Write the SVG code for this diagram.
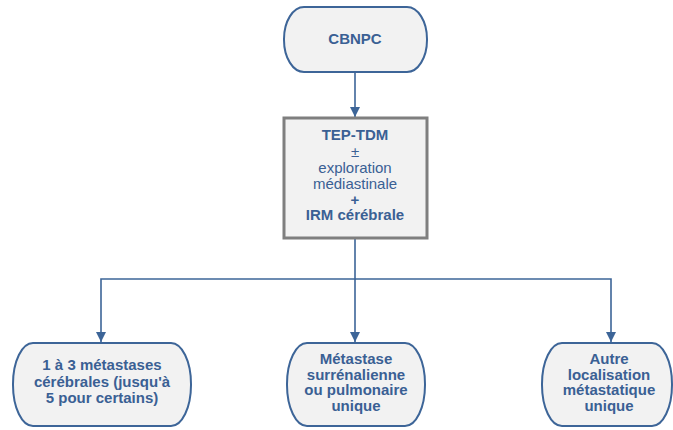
<svg xmlns="http://www.w3.org/2000/svg" width="673" height="430" viewBox="0 0 673 430">
<defs>
<style>
.term{fill:#f2f2f2;stroke:#3d6598;stroke-width:2}
.sq{fill:#f2f2f2;stroke:#7f7f7f;stroke-width:3}
.t{font-family:"Liberation Sans",Arial,sans-serif;font-size:15px;fill:#3a6094;text-anchor:middle}
.b{font-weight:bold}
.c{fill:none;stroke:#3d6598;stroke-width:1.6}
</style>
<marker id="ah" viewBox="0 0 10 10" refX="10" refY="5" markerWidth="10" markerHeight="10" markerUnits="userSpaceOnUse" orient="auto">
<path d="M0,0 L10,5 L0,10 z" fill="#3d6598"/>
</marker>
</defs>
<rect width="673" height="430" fill="#ffffff"/>
<g id="connectors">
<path class="c" d="M355,72 V117" marker-end="url(#ah)"/>
<path class="c" d="M355,238 V279 H101 V342" marker-end="url(#ah)"/>
<path class="c" d="M355,279 V342" marker-end="url(#ah)"/>
<path class="c" d="M355,279 H611 V342" marker-end="url(#ah)"/>
</g>
<g id="cbnpc">
<rect class="term" x="284" y="7" width="143" height="65" rx="20" ry="32"/>
<text class="t b" x="355" y="44">CBNPC</text>
</g>
<g id="tep">
<rect class="sq" x="284" y="118" width="143" height="120"/>
<text class="t b" x="355" y="140">TEP-TDM</text>
<text class="t" x="355" y="157">±</text>
<text class="t" x="355" y="173">exploration</text>
<text class="t" x="355" y="189">médiastinale</text>
<text class="t b" x="355" y="205">+</text>
<text class="t b" x="355" y="220">IRM cérébrale</text>
</g>
<g id="cerebrales">
<rect class="term" x="13" y="343" width="178" height="83" rx="20" ry="41"/>
<text class="t b" x="102" y="370">1 à 3 métastases</text>
<text class="t b" x="102" y="387">cérébrales (jusqu'à</text>
<text class="t b" x="102" y="403">5 pour certains)</text>
</g>
<g id="surrenale">
<rect class="term" x="287" y="343" width="138" height="83" rx="20" ry="41"/>
<text class="t b" x="356" y="364">Métastase</text>
<text class="t b" x="356" y="380">surrénalienne</text>
<text class="t b" x="356" y="395">ou pulmonaire</text>
<text class="t b" x="356" y="411">unique</text>
</g>
<g id="autre">
<rect class="term" x="542" y="343" width="130" height="83" rx="20" ry="41"/>
<text class="t b" x="609" y="364">Autre</text>
<text class="t b" x="609" y="380">localisation</text>
<text class="t b" x="609" y="395">métastatique</text>
<text class="t b" x="609" y="411">unique</text>
</g>
</svg>
